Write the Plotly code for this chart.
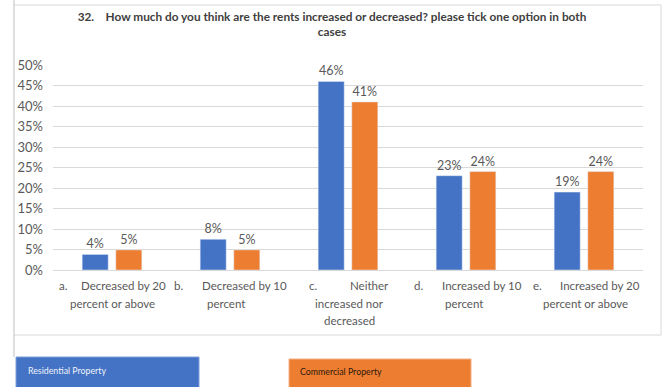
import plotly.graph_objects as go

categories = [
    "a. Decreased by 20 percent or above",
    "b. Decreased by 10 percent",
    "c. Neither increased nor decreased",
    "d. Increased by 10 percent",
    "e. Increased by 20 percent or above",
]
label_letters = ["a.", "b.", "c.", "d.", "e."]
label_first = ["Decreased by 20", "Decreased by 10", "Neither", "Increased by 10", "Increased by 20"]
label_rest = [["percent or above"], ["percent"], ["increased nor", "decreased"], ["percent"], ["percent or above"]]
residential = [0.038, 0.075, 0.46, 0.23, 0.19]
commercial = [0.049, 0.049, 0.41, 0.24, 0.24]
series_names = ["Residential Property", "Commercial Property"]
y_ticks = [0, 0.05, 0.10, 0.15, 0.20, 0.25, 0.30, 0.35, 0.40, 0.45, 0.50]

BLUE = "#4472C4"
ORANGE = "#ED7D31"
TXT = "#595959"
FONT = "Lato, Liberation Sans, Arial, sans-serif"

W, H = 668, 387
L, R, T, B = 53, 25, 65, 117
PW, PH = W - L - R, H - T - B


def px(x):
    return (x - L) / PW


def py(y):
    return (H - B - y) / PH


fig = go.Figure()
for name, vals, col in [(series_names[0], residential, BLUE), (series_names[1], commercial, ORANGE)]:
    fig.add_trace(go.Bar(
        x=categories, y=vals, name=name, marker_color=col,
        texttemplate="%{y:.0%}", textposition="outside",
        textfont=dict(color=TXT, size=12.5, family=FONT),
        cliponaxis=False, showlegend=False,
    ))

fig.update_layout(
    width=W, height=H,
    margin=dict(l=L, r=R, t=T, b=B, pad=0, autoexpand=False),
    paper_bgcolor="white", plot_bgcolor="white",
    barmode="group", bargap=0.43, bargroupgap=0.226,
    font=dict(family=FONT, color=TXT, size=12.5),
    title=dict(
        text="<b>32.\u00a0\u00a0\u00a0\u00a0How much do you think are the rents increased or decreased? please tick one option in both<br>cases</b>",
        x=0.497, xanchor="center", y=0.947, yanchor="top",
        font=dict(size=11.8, color="#404040", family=FONT),
    ),
    xaxis=dict(
        showgrid=False, showline=True, linecolor="#d9d9d9", linewidth=1,
        ticks="", showticklabels=False, automargin=False,
        range=[-0.5, 4.5],
    ),
    yaxis=dict(
        range=[0, 0.5], tickvals=y_ticks, tickformat=".0%",
        showgrid=True, gridcolor="#d9d9d9", gridwidth=1,
        zeroline=False, showline=False, ticks="", automargin=False,
        ticklabelstandoff=9,
        tickfont=dict(size=13, color=TXT, family=FONT),
    ),
)

# category label layout (pixel offsets relative to category centre)
letter_dx = [-55, -58, -41, -54, -53]
first_dx = [56, 59, 43, 58, 58]
rest_dx = [0, -4, 1, -2, 1]
line_y = [285, 303, 320]
lab_font = dict(size=11.5, color=TXT, family=FONT)
for i, cat in enumerate(categories):
    fig.add_annotation(x=cat, xref="x", yref="paper", y=py(line_y[0]), text=label_letters[i],
                       xanchor="left", yanchor="middle", xshift=letter_dx[i], showarrow=False, font=lab_font)
    fig.add_annotation(x=cat, xref="x", yref="paper", y=py(line_y[0]), text=label_first[i],
                       xanchor="right", yanchor="middle", xshift=first_dx[i], showarrow=False, font=lab_font)
    for j, line in enumerate(label_rest[i]):
        fig.add_annotation(x=cat, xref="x", yref="paper", y=py(line_y[j + 1]), text=line,
                           xanchor="center", yanchor="middle", xshift=rest_dx[i], showarrow=False, font=lab_font)

shapes = []
line_col = "#d9d9d9"
shapes.append(dict(type="line", xref="paper", yref="paper", x0=px(14), x1=px(661), y0=py(5), y1=py(5), line=dict(color=line_col, width=1)))
shapes.append(dict(type="line", xref="paper", yref="paper", x0=px(661), x1=px(661), y0=py(5), y1=py(335), line=dict(color=line_col, width=1)))
shapes.append(dict(type="line", xref="paper", yref="paper", x0=px(14), x1=px(661), y0=py(335), y1=py(335), line=dict(color=line_col, width=1)))
shapes.append(dict(type="line", xref="paper", yref="paper", x0=px(14), x1=px(14), y0=py(0), y1=py(357), line=dict(color="#bfbfbf", width=1)))
shapes.append(dict(type="rect", xref="paper", yref="paper", x0=px(16), x1=px(199), y0=py(357), y1=py(390), fillcolor=BLUE, line=dict(color="#7f9fdb", width=1)))
shapes.append(dict(type="rect", xref="paper", yref="paper", x0=px(289), x1=px(471), y0=py(359), y1=py(390), fillcolor=ORANGE, line=dict(color="#f4b183", width=1)))
fig.update_layout(shapes=shapes)

fig.add_annotation(xref="paper", yref="paper", x=px(26), y=py(370), xanchor="left", yanchor="middle",
                   text=series_names[0], showarrow=False, font=dict(size=8.8, color="#eef2fa", family=FONT))
fig.add_annotation(xref="paper", yref="paper", x=px(298), y=py(371), xanchor="left", yanchor="middle",
                   text=series_names[1], showarrow=False, font=dict(size=8.8, color="#2e1a0a", family=FONT))

fig.write_html("out.html")
